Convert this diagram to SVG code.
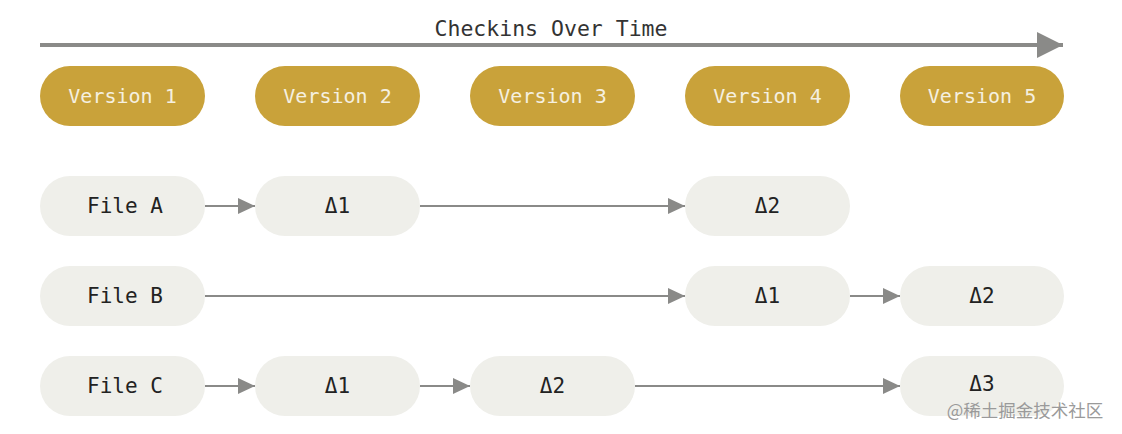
<svg xmlns="http://www.w3.org/2000/svg" width="1122" height="434" viewBox="0 0 1122 434">
<defs>
<style>
.ver rect{fill:#c9a23a}
.ver text{fill:#f5f0e0;font-family:"DejaVu Sans Mono","Liberation Mono",monospace;font-size:20px;font-weight:300;text-anchor:middle;dominant-baseline:central}
.file rect{fill:#efefea}
.file text{fill:#222;font-family:"DejaVu Sans Mono","Liberation Mono",monospace;font-size:21px;text-anchor:middle;dominant-baseline:central}
.conn line{stroke:#8a8a88;stroke-width:2;marker-end:url(#ah)}
</style>
<marker id="ah" markerUnits="userSpaceOnUse" markerWidth="18" markerHeight="16" refX="17" refY="8" orient="auto">
<path d="M0,0 L17,8 L0,16 Z" fill="#8a8a88"/>
</marker>
<marker id="bigah" markerUnits="userSpaceOnUse" markerWidth="27" markerHeight="26" refX="26" refY="13" orient="auto">
<path d="M0,0 L26,13 L0,26 Z" fill="#8a8a88"/>
</marker>
</defs>
<rect width="1122" height="434" fill="#ffffff"/>
<g id="timeline">
<line x1="40" y1="45" x2="1063" y2="45" stroke="#8a8a88" stroke-width="4" marker-end="url(#bigah)"/>
<text x="551" y="28" font-family="'DejaVu Sans Mono','Liberation Mono',monospace" font-size="21.5" fill="#333" text-anchor="middle" dominant-baseline="central">Checkins Over Time</text>
</g>
<g id="v1" class="ver"><rect x="40" y="66" width="165" height="60" rx="30"/><text x="122.5" y="96">Version 1</text></g>
<g id="v2" class="ver"><rect x="255" y="66" width="165" height="60" rx="30"/><text x="337.5" y="96">Version 2</text></g>
<g id="v3" class="ver"><rect x="470" y="66" width="165" height="60" rx="30"/><text x="552.5" y="96">Version 3</text></g>
<g id="v4" class="ver"><rect x="685" y="66" width="165" height="60" rx="30"/><text x="767.5" y="96">Version 4</text></g>
<g id="v5" class="ver"><rect x="900" y="66" width="164" height="60" rx="30"/><text x="982" y="96">Version 5</text></g>

<g id="fileA" class="file"><rect x="40" y="176" width="165" height="60" rx="30"/><text x="125" y="206">File A</text></g>
<g id="a1" class="file"><rect x="255" y="176" width="165" height="60" rx="30"/><text x="337.5" y="206">Δ1</text></g>
<g id="a2" class="file"><rect x="685" y="176" width="165" height="60" rx="30"/><text x="767.5" y="206">Δ2</text></g>

<g id="fileB" class="file"><rect x="40" y="266" width="165" height="60" rx="30"/><text x="125" y="296">File B</text></g>
<g id="b1" class="file"><rect x="685" y="266" width="165" height="60" rx="30"/><text x="767.5" y="296">Δ1</text></g>
<g id="b2" class="file"><rect x="900" y="266" width="164" height="60" rx="30"/><text x="982" y="296">Δ2</text></g>

<g id="fileC" class="file"><rect x="40" y="356" width="165" height="60" rx="30"/><text x="125" y="386">File C</text></g>
<g id="c1" class="file"><rect x="255" y="356" width="165" height="60" rx="30"/><text x="337.5" y="386">Δ1</text></g>
<g id="c2" class="file"><rect x="470" y="356" width="165" height="60" rx="30"/><text x="552.5" y="386">Δ2</text></g>
<g id="c3" class="file"><rect x="900" y="356" width="164" height="60" rx="30"/><text x="982" y="384">Δ3</text></g>

<g id="connectors" class="conn">
<line x1="205" y1="206" x2="255" y2="206"/>
<line x1="420" y1="206" x2="685" y2="206"/>
<line x1="205" y1="296" x2="685" y2="296"/>
<line x1="850" y1="296" x2="900" y2="296"/>
<line x1="205" y1="386" x2="255" y2="386"/>
<line x1="420" y1="386" x2="470" y2="386"/>
<line x1="635" y1="386" x2="900" y2="386"/>
</g>
<text x="1025" y="409" font-family="'Noto Sans CJK SC',sans-serif" font-size="17.5" fill="#9a9a9a" text-anchor="middle" dominant-baseline="central">@稀土掘金技术社区</text>
</svg>
